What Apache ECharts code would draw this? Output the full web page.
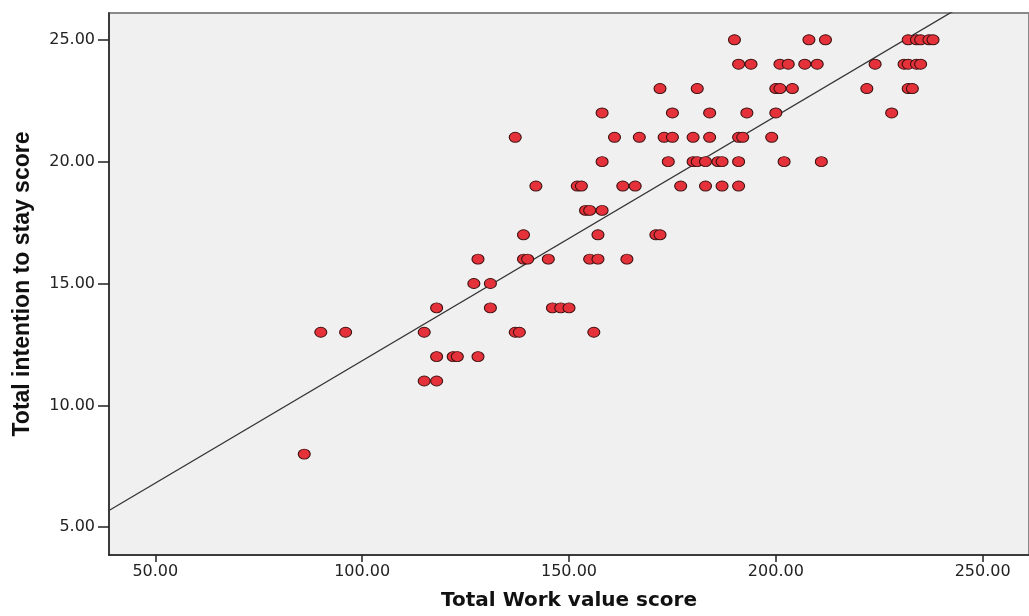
<!DOCTYPE html>
<html>
<head>
<meta charset="utf-8">
<script src="https://cdn.jsdelivr.net/npm/echarts@6/dist/echarts.min.js"></script>
<style>
  html, body { margin: 0; padding: 0; background: #ffffff; }
  #chart { width: 1029px; height: 616px; }
</style>
</head>
<body>
<div id="chart"></div>
<script>
// ---- Data ----
// Total Work value score (x) and Total intention to stay score (y), one entry per respondent
const workValue = [
  // stay = 25
  190, 208, 212, 232, 234, 235, 237, 238,
  // stay = 24
  191, 194, 201, 203, 207, 210, 224, 231, 232, 234, 235,
  // stay = 23
  172, 181, 200, 201, 204, 222, 232, 233,
  // stay = 22
  158, 175, 184, 193, 200, 228,
  // stay = 21
  137, 161, 167, 173, 175, 180, 184, 191, 192, 199,
  // stay = 20
  158, 174, 180, 181, 183, 186, 187, 191, 202, 211,
  // stay = 19
  142, 152, 153, 163, 166, 177, 183, 187, 191,
  // stay = 18
  154, 155, 158,
  // stay = 17
  139, 157, 171, 172,
  // stay = 16
  128, 139, 140, 145, 155, 157, 164,
  // stay = 15
  127, 131,
  // stay = 14
  118, 131, 146, 148, 150,
  // stay = 13
  90, 96, 115, 137, 138, 156,
  // stay = 12
  118, 122, 123, 128,
  // stay = 11
  115, 118,
  // stay = 8
  86
];
const stayScore = [
  25, 25, 25, 25, 25, 25, 25, 25,
  24, 24, 24, 24, 24, 24, 24, 24, 24, 24, 24,
  23, 23, 23, 23, 23, 23, 23, 23,
  22, 22, 22, 22, 22, 22,
  21, 21, 21, 21, 21, 21, 21, 21, 21, 21,
  20, 20, 20, 20, 20, 20, 20, 20, 20, 20,
  19, 19, 19, 19, 19, 19, 19, 19, 19,
  18, 18, 18,
  17, 17, 17, 17,
  16, 16, 16, 16, 16, 16, 16,
  15, 15,
  14, 14, 14, 14, 14,
  13, 13, 13, 13, 13, 13,
  12, 12, 12, 12,
  11, 11,
  8
];

// Fit line (total linear fit shown in the chart)
const fitIntercept = 1.79;
const fitSlope = 0.1004;

// Axis ticks / ranges
const xTicks = [50, 100, 150, 200, 250];
const yTicks = [5, 10, 15, 20, 25];
const xRange = [38.8, 261.2];
const yRange = [3.86, 26.1];

// ---- Build chart ----
const points = workValue.map((x, i) => [x, stayScore[i]]);
const fitLine = [
  [xRange[0], fitIntercept + fitSlope * xRange[0]],
  [xRange[1], fitIntercept + fitSlope * xRange[1]]
];

const chart = echarts.init(document.getElementById('chart'), null, { renderer: 'canvas' });

const axisLabelFont = { fontFamily: 'DejaVu Sans', fontSize: 16, color: '#222' };

chart.setOption({
  animation: false,
  backgroundColor: '#ffffff',
  grid: {
    left: 109, top: 13, right: -10, bottom: 55,
    show: true,
    backgroundColor: '#f0f0f0',
    borderColor: '#888888',
    borderWidth: 2
  },
  xAxis: {
    type: 'value',
    min: xRange[0], max: xRange[1],
    name: 'Total Work value score',
    nameLocation: 'middle',
    nameGap: 36,
    nameTextStyle: { fontFamily: 'DejaVu Sans', fontWeight: 'bold', fontSize: 20, color: '#111' },
    axisLine: { show: true, onZero: false, lineStyle: { color: '#222', width: 1.5 } },
    axisTick: { show: true, length: 7, inside: false, customValues: xTicks, lineStyle: { color: '#222', width: 1.5 } },
    axisLabel: Object.assign({ margin: 9, customValues: xTicks, formatter: v => v.toFixed(2) }, axisLabelFont),
    splitLine: { show: false }
  },
  yAxis: {
    type: 'value',
    min: yRange[0], max: yRange[1],
    name: 'Total intention to stay score',
    nameLocation: 'middle',
    nameGap: 75,
    nameTextStyle: { fontFamily: 'Liberation Sans', fontWeight: 'bold', fontSize: 23, color: '#111' },
    axisLine: { show: true, onZero: false, lineStyle: { color: '#222', width: 1.5 } },
    axisTick: { show: true, length: 11, inside: false, customValues: yTicks, lineStyle: { color: '#222', width: 1.5 } },
    axisLabel: Object.assign({ margin: 14, customValues: yTicks, formatter: v => v.toFixed(2) }, axisLabelFont),
    splitLine: { show: false }
  },
  series: [
    {
      type: 'line',
      data: fitLine,
      symbol: 'none',
      clip: true,
      silent: true,
      lineStyle: { color: '#333333', width: 1.3 },
      z: 1
    },
    {
      type: 'scatter',
      data: points,
      symbol: 'circle',
      symbolSize: [12, 10],
      itemStyle: { color: '#e5323a', borderColor: '#3d1010', borderWidth: 1, opacity: 1 },
      z: 2
    }
  ]
});
</script>
</body>
</html>
